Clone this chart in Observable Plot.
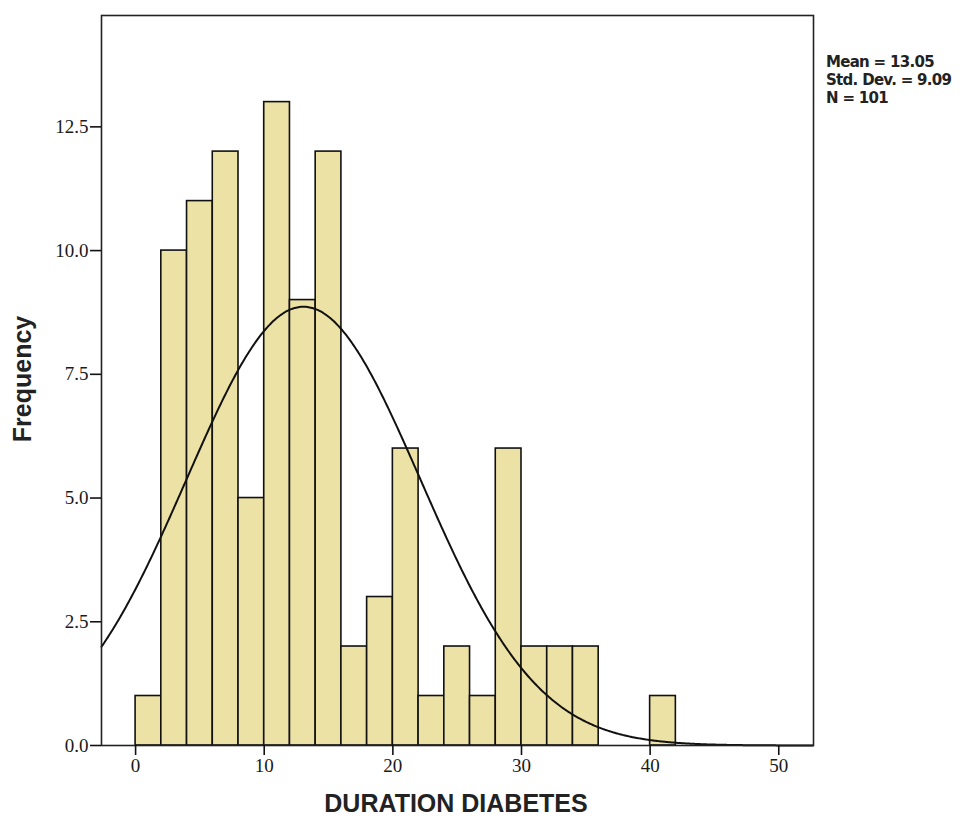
<!DOCTYPE html>
<html>
<head>
<meta charset="utf-8">
<script src="https://cdn.jsdelivr.net/npm/d3@7"></script>
<script src="https://cdn.jsdelivr.net/npm/@observablehq/plot@0.6"></script>
<style>
  html, body { margin: 0; padding: 0; background: #fff; }
  #chart svg { display: block; }
</style>
</head>
<body>
<div id="chart"></div>
<script>
// Histogram bins (start of each 2-year bin) and frequencies
const binStarts = [0, 2, 4, 6, 8, 10, 12, 14, 16, 18, 20, 22, 24, 26, 28, 30, 32, 34, 36, 38, 40];
const frequencies = [1, 10, 11, 12, 5, 13, 9, 12, 2, 3, 6, 1, 2, 1, 6, 2, 2, 2, 0, 0, 1];
const binWidth = 2;

// Summary statistics shown on the chart
const statMean = 13.05;
const statSD = 9.09;
const statN = 101;
const statLines = ["Mean = 13.05", "Std. Dev. = 9.09", "N = 101"];

// Tick labels
const xTicks = [0, 10, 20, 30, 40, 50];
const yTicks = [0, 2.5, 5, 7.5, 10, 12.5];

const xDomain = [-2.65, 52.7];
const yDomain = [0, 14.75];

const bars = binStarts.map((s, i) => ({x1: s, x2: s + binWidth, y: frequencies[i]})).filter(d => d.y > 0);

// Fitted normal curve (defined by the chart's mean, SD and N)
const curveXs = d3.range(xDomain[0], xDomain[1] + 0.001, 0.1);
const normal = curveXs.map(x => ({
  x,
  y: statN * binWidth * Math.exp(-0.5 * ((x - statMean) / statSD) ** 2) / (statSD * Math.sqrt(2 * Math.PI))
}));

const chart = Plot.plot({
  width: 967,
  height: 820,
  marginLeft: 101,
  marginRight: 154,
  marginTop: 15,
  marginBottom: 75,
  style: {fontFamily: "'Liberation Serif', serif", fontSize: "19px", color: "#1a1a1a", background: "#fff"},
  x: {domain: xDomain, label: null},
  y: {domain: yDomain, label: null},
  marks: [
    Plot.rectY(bars, {x1: "x1", x2: "x2", y: "y", fill: "#ede2a6", stroke: "#111", strokeWidth: 1.6}),
    Plot.line(normal, {x: "x", y: "y", stroke: "#111", strokeWidth: 2, curve: "basis"}),
    Plot.frame({stroke: "#222", strokeWidth: 1.6}),
    Plot.axisX({ticks: xTicks, tickSize: 10, tickPadding: 3, label: null, stroke: "#111", strokeWidth: 1.6, fontSize: 19}),
    Plot.axisY({ticks: yTicks, tickSize: 11, tickPadding: 2, tickFormat: d3.format(".1f"), label: null, stroke: "#111", strokeWidth: 1.6, fontSize: 19})
  ]
});

document.getElementById("chart").appendChild(chart);

// Axis titles and summary statistics as SVG text
const svg = d3.select(chart);
svg.append("text")
  .attr("x", 456).attr("y", 812)
  .attr("text-anchor", "middle")
  .style("font-family", "'Liberation Sans', Arial, sans-serif")
  .style("font-weight", "bold").style("font-size", "25px").style("fill", "#222")
  .text("DURATION DIABETES");
svg.append("text")
  .attr("transform", "translate(31,379) rotate(-90)")
  .attr("text-anchor", "middle")
  .style("font-family", "'Liberation Sans', Arial, sans-serif")
  .style("font-weight", "bold").style("font-size", "25px").style("fill", "#222")
  .text("Frequency");
const st = svg.append("text")
  .attr("x", 826).attr("y", 67)
  .attr("text-anchor", "start")
  .style("font-family", "'DejaVu Sans', sans-serif")
  .style("font-weight", "bold").style("font-size", "15px").style("fill", "#222")
  .style("letter-spacing", "-0.7px");
statLines.forEach((t, i) => st.append("tspan").attr("x", 826).attr("dy", i === 0 ? 0 : 18).text(t));
</script>
</body>
</html>
